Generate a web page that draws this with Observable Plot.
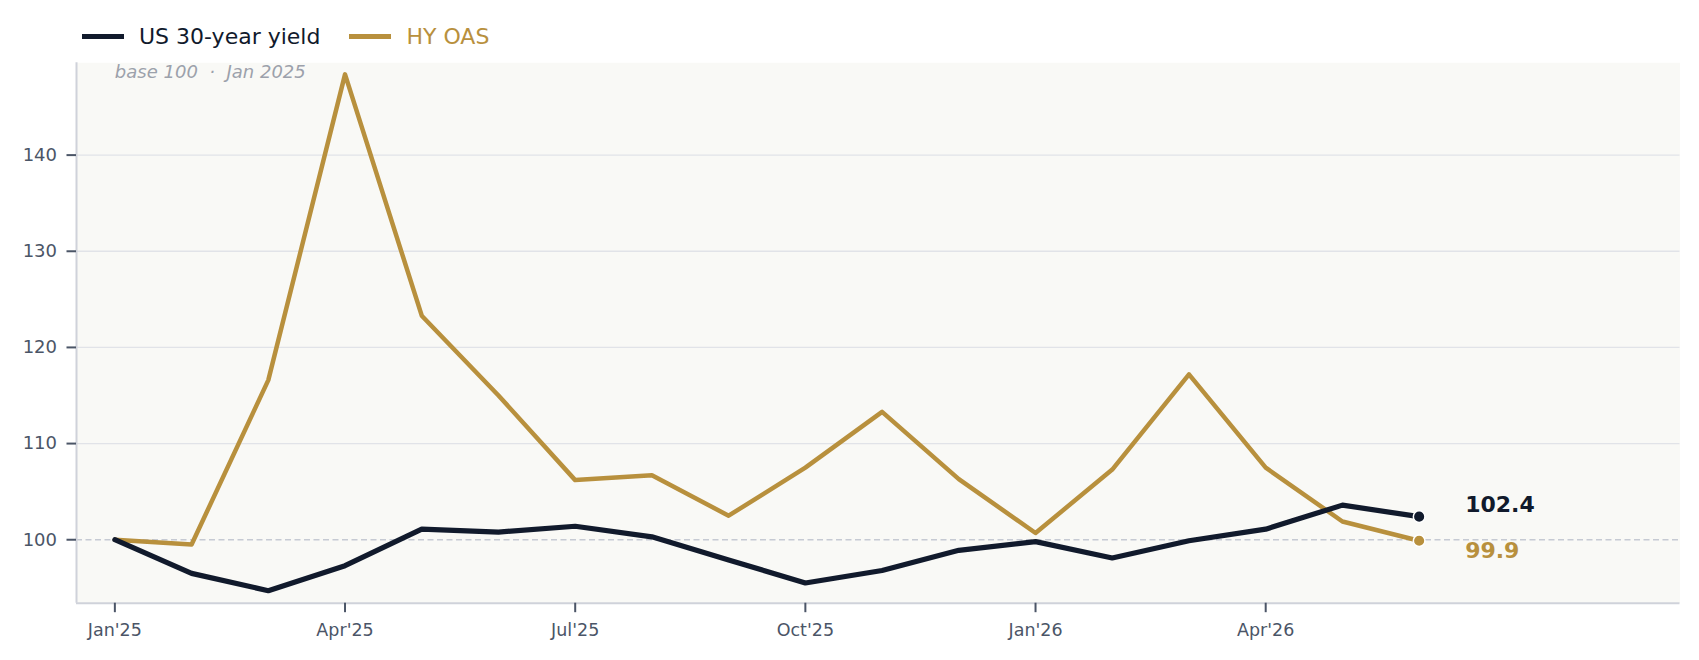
<!DOCTYPE html>
<html><head><meta charset="utf-8">
<script src="https://cdn.jsdelivr.net/npm/d3@7"></script>
<script src="https://cdn.jsdelivr.net/npm/@observablehq/plot@0.6"></script>
<style>
body{margin:0;background:#fff;font-family:"DejaVu Sans",sans-serif;}
#legend{height:52px;box-sizing:border-box;padding:21px 0 0 82px;display:flex;align-items:center;font-size:22px;}
.item{display:flex;align-items:center;margin-right:29px;}
.sw{width:42px;height:5px;margin-right:15px;}
#chart svg{display:block;}
</style></head><body>
<div id="legend"></div>
<div id="chart"></div>
<script>
const months = ["Jan'25","Feb'25","Mar'25","Apr'25","May'25","Jun'25","Jul'25","Aug'25","Sep'25","Oct'25","Nov'25","Dec'25","Jan'26","Feb'26","Mar'26","Apr'26","May'26","Jun'26"];
const usYield = [100, 96.5, 94.7, 97.3, 101.1, 100.8, 101.4, 100.3, 97.9, 95.5, 96.8, 98.9, 99.8, 98.1, 99.9, 101.1, 103.6, 102.4];
const hyOas = [100, 99.5, 116.6, 148.4, 123.3, 115.0, 106.2, 106.7, 102.5, 107.5, 113.3, 106.3, 100.7, 107.3, 117.2, 107.5, 101.9, 99.9];
const seriesNames = ["US 30-year yield", "HY OAS"];
const seriesColors = ["#111a2c", "#b8903d"];
const xTickLabels = ["Jan'25","Apr'25","Jul'25","Oct'25","Jan'26","Apr'26"];
const yTicks = [100, 110, 120, 130, 140];
const gridTicks = [110, 120, 130, 140];
const baseValue = [100];
const note = ["base 100  \u00b7  Jan 2025"];

const xDomain = [-0.5, 20.4];
const yDomain = [93.4, 149.6];

// legend
const legend = document.getElementById("legend");
seriesNames.forEach((name, k) => {
  const it = document.createElement("div");
  it.className = "item";
  const sw = document.createElement("div");
  sw.className = "sw";
  sw.style.background = seriesColors[k];
  const tx = document.createElement("span");
  tx.textContent = name;
  tx.style.color = seriesColors[k];
  it.appendChild(sw); it.appendChild(tx);
  legend.appendChild(it);
});

const usRows = usYield.map((v, i) => ({i, value: v}));
const hyRows = hyOas.map((v, i) => ({i, value: v}));
const usLast = [usRows[usRows.length - 1]];
const hyLast = [hyRows[hyRows.length - 1]];

const axisColor = "#4b5567";

const chart = Plot.plot({
  width: 1699,
  height: 608,
  marginLeft: 76,
  marginRight: 19.5,
  marginTop: 10.3,
  marginBottom: 57.3,
  style: {fontFamily: "DejaVu Sans", fontSize: "17.5px", background: "transparent"},
  x: {type: "linear", domain: xDomain, label: null, axis: null},
  y: {domain: yDomain, label: null, axis: null},
  marks: [
    Plot.frame({fill: "#f9f9f6", stroke: null}),
    Plot.gridY(gridTicks, {stroke: "#e1e3e8", strokeOpacity: 1, strokeWidth: 1.3}),
    Plot.ruleY(baseValue, {stroke: "#c6cad3", strokeWidth: 1.3, strokeDasharray: "6,3.5"}),
    Plot.ruleX([xDomain[0]], {stroke: "#cfd2da", strokeWidth: 2}),
    Plot.ruleY([yDomain[0]], {stroke: "#cfd2da", strokeWidth: 2}),
    Plot.axisY(yTicks, {tickSize: 9.5, tickPadding: 10, stroke: axisColor, strokeWidth: 2, fill: axisColor, fontSize: 18, label: null}),
    Plot.axisX(xTickLabels.map(m => months.indexOf(m)), {tickSize: 9.5, tickPadding: 11, stroke: axisColor, strokeWidth: 2, fill: axisColor, fontSize: 17.5, tickFormat: i => months[i], label: null}),
    Plot.line(hyRows, {x: "i", y: "value", stroke: seriesColors[1], strokeWidth: 4.5, strokeLinejoin: "round"}),
    Plot.line(usRows, {x: "i", y: "value", stroke: seriesColors[0], strokeWidth: 5.2, strokeLinejoin: "round"}),
    Plot.dot(hyLast, {x: "i", y: "value", fill: seriesColors[1], r: 5.8, stroke: "white", strokeWidth: 1.5}),
    Plot.dot(usLast, {x: "i", y: "value", fill: seriesColors[0], r: 5.8, stroke: "white", strokeWidth: 1.5}),
    Plot.text(usLast, {x: "i", y: "value", text: d => d.value.toFixed(1), dx: 46, dy: -12, fill: seriesColors[0], fontWeight: "bold", fontSize: 22, textAnchor: "start"}),
    Plot.text(hyLast, {x: "i", y: "value", text: d => d.value.toFixed(1), dx: 46, dy: 10, fill: seriesColors[1], fontWeight: "bold", fontSize: 22, textAnchor: "start"}),
    Plot.text(note, {x: () => 0, text: d => d, frameAnchor: "top", textAnchor: "start", lineAnchor: "top", dy: 2, fill: "#9ca1ab", fontStyle: "italic", fontSize: 18})
  ]
});
document.getElementById("chart").appendChild(chart);
</script>
</body></html>
